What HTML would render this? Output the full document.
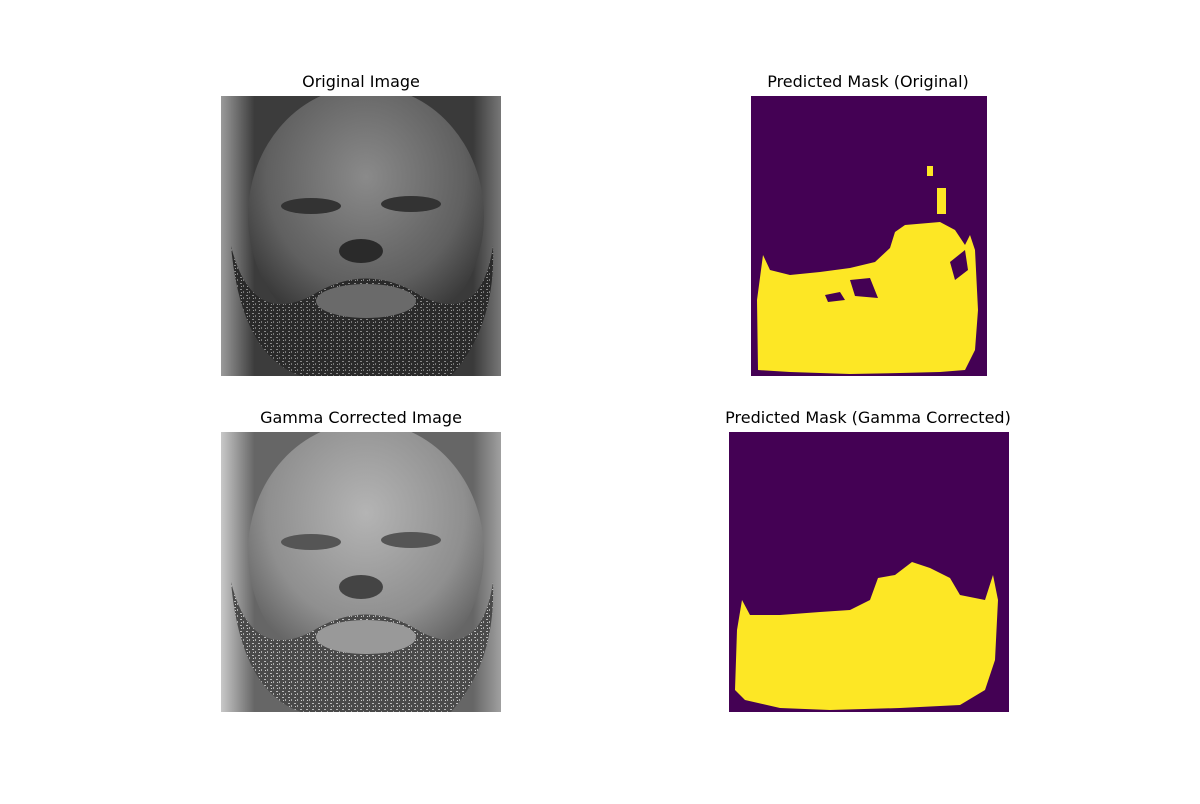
<!DOCTYPE html>
<html><head><meta charset="utf-8"><style>
body{margin:0;background:#fff;width:1200px;height:800px;overflow:hidden;font-family:"DejaVu Sans","Liberation Sans",sans-serif}
</style></head><body>
<svg width="1200" height="800" viewBox="0 0 1200 800" font-family="DejaVu Sans, Liberation Sans, sans-serif">
<defs>
<radialGradient id="faceO" cx="0.5" cy="0.35" r="0.6"><stop offset="0" stop-color="#8a8a8a"/><stop offset="0.7" stop-color="#606060"/><stop offset="1" stop-color="#3a3a3a"/></radialGradient>
<radialGradient id="faceG" cx="0.5" cy="0.35" r="0.6"><stop offset="0" stop-color="#b4b4b4"/><stop offset="0.7" stop-color="#8f8f8f"/><stop offset="1" stop-color="#666"/></radialGradient>
<linearGradient id="bgO" x1="0" x2="1"><stop offset="0" stop-color="#9a9a9a"/><stop offset="0.12" stop-color="#3c3c3c"/><stop offset="0.9" stop-color="#3a3a3a"/><stop offset="1" stop-color="#777"/></linearGradient>
<linearGradient id="bgG" x1="0" x2="1"><stop offset="0" stop-color="#c8c8c8"/><stop offset="0.12" stop-color="#666"/><stop offset="0.9" stop-color="#666"/><stop offset="1" stop-color="#a0a0a0"/></linearGradient>
<pattern id="noise" width="6" height="6" patternUnits="userSpaceOnUse"><rect width="6" height="6" fill="#2a2a2a"/><rect x="1" y="1" width="2" height="1" fill="#888"/><rect x="4" y="3" width="1" height="2" fill="#777"/><rect x="2" y="4" width="1" height="1" fill="#999"/></pattern>
<pattern id="noiseG" width="6" height="6" patternUnits="userSpaceOnUse"><rect width="6" height="6" fill="#4a4a4a"/><rect x="1" y="1" width="2" height="1" fill="#bbb"/><rect x="4" y="3" width="1" height="2" fill="#aaa"/><rect x="2" y="4" width="1" height="1" fill="#ccc"/></pattern>
</defs>

<text x="361" y="87" text-anchor="middle" font-size="16">Original Image</text>
<g>
<svg x="221" y="96" width="280" height="280" viewBox="0 0 280 280">
<rect width="280" height="280" fill="url(#bgO)"/>
<ellipse cx="145" cy="120" rx="118" ry="130" fill="url(#faceO)"/>
<path d="M10 150 Q20 260 80 280 L230 280 Q275 230 272 150 Q260 230 200 200 Q145 165 90 200 Q30 230 10 150Z" fill="url(#noise)"/>
<ellipse cx="90" cy="110" rx="30" ry="8" fill="#333"/><ellipse cx="190" cy="108" rx="30" ry="8" fill="#333"/>
<ellipse cx="140" cy="155" rx="22" ry="12" fill="#2a2a2a"/>
<ellipse cx="145" cy="205" rx="50" ry="17" fill="#6a6a6a"/>
</svg></g>

<text x="868" y="87" text-anchor="middle" font-size="16">Predicted Mask (Original)</text>
<g>
<rect x="751" y="96" width="236" height="280" fill="#440154"/>
<path d="M758 370 L757 300 L763 255 L770 270 L790 275 L820 272 L850 268 L875 262 L890 248 L895 232 L905 225 L940 222 L955 230 L965 245 L970 235 L975 250 L978 310 L975 350 L965 370 L940 372 L900 373 L850 374 L790 372Z" fill="#fde725"/>
<path d="M950 262 L965 250 L968 270 L955 280Z M825 295 L840 292 L845 300 L828 302Z M850 280 L870 278 L878 298 L855 296Z" fill="#440154"/>
<rect x="927" y="166" width="6" height="10" fill="#fde725"/><rect x="937" y="188" width="9" height="26" fill="#fde725"/>
</g>

<text x="361" y="423" text-anchor="middle" font-size="16">Gamma Corrected Image</text>
<g>
<svg x="221" y="432" width="280" height="280" viewBox="0 0 280 280">
<rect width="280" height="280" fill="url(#bgG)"/>
<ellipse cx="145" cy="120" rx="118" ry="130" fill="url(#faceG)"/>
<path d="M10 150 Q20 260 80 280 L230 280 Q275 230 272 150 Q260 230 200 200 Q145 165 90 200 Q30 230 10 150Z" fill="url(#noiseG)"/>
<ellipse cx="90" cy="110" rx="30" ry="8" fill="#555"/><ellipse cx="190" cy="108" rx="30" ry="8" fill="#555"/>
<ellipse cx="140" cy="155" rx="22" ry="12" fill="#444"/>
<ellipse cx="145" cy="205" rx="50" ry="17" fill="#999"/>
</svg></g>

<text x="868" y="423" text-anchor="middle" font-size="16">Predicted Mask (Gamma Corrected)</text>
<g>
<rect x="729" y="432" width="280" height="280" fill="#440154"/>
<path d="M735 690 L737 630 L742 600 L750 615 L780 615 L820 612 L850 610 L870 600 L878 578 L895 575 L912 562 L930 568 L950 578 L960 595 L985 600 L993 575 L998 600 L995 660 L985 690 L960 705 L900 708 L830 710 L780 708 L745 700Z" fill="#fde725"/>
</g>
</svg>
</body></html>
